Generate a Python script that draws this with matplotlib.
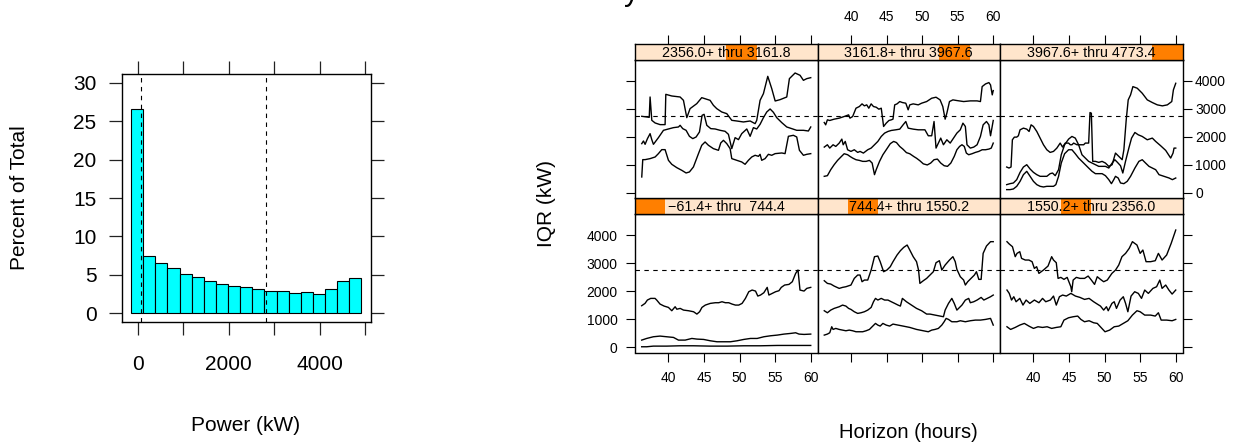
import numpy as np
import matplotlib.pyplot as plt
from matplotlib.patches import Rectangle

plt.rcParams['font.family'] = ['Liberation Sans', 'DejaVu Sans']

W, H = 1233, 448
fig = plt.figure(figsize=(W / 100, H / 100), dpi=100)


def box(l, t, r, b):
    # pixel box (left, top, right, bottom) -> figure fraction rect
    return [l / W, 1 - b / H, (r - l) / W, (b - t) / H]


# ---------------- histogram data ----------------
bin_edges = np.linspace(-147, 4916, 20)
pct_total = [26.6, 7.49, 6.57, 5.88, 5.14, 4.75, 4.18, 3.83, 3.57, 3.35,
             3.09, 2.83, 2.83, 2.61, 2.74, 2.52, 3.18, 4.14, 4.53]
q_low, q_high = 80, 2820          # quartiles of power (dashed lines)
iqr_ref = q_high - q_low          # reference line in the IQR panels

# ---------------- shingle levels ----------------
shingle_edges = [-61.4, 744.4, 1550.2, 2356.0, 3161.8, 3967.6, 4773.4]
strip_labels = ['\u221261.4+ thru  744.4', '744.4+ thru 1550.2', '1550.2+ thru 2356.0',
                '2356.0+ thru 3161.8', '3161.8+ thru 3967.6', '3967.6+ thru 4773.4']

# ---------------- IQR curves (hour, kW) ----------------
lv1_hi = [(36.24, 1484), (36.71, 1567), (37.04, 1686), (37.51, 1745), (38.12, 1745), (38.35, 1686),
          (38.82, 1543), (39.39, 1472), (40.0, 1424), (40.47, 1306), (40.94, 1448), (41.18, 1360),
          (41.65, 1389), (42.12, 1329), (42.82, 1306), (43.53, 1270), (44.0, 1187), (44.38, 1270),
          (44.71, 1424), (45.18, 1507), (45.88, 1567), (46.59, 1591), (47.06, 1591), (47.53, 1626),
          (48.0, 1591), (48.47, 1591), (48.94, 1543), (49.41, 1507), (49.88, 1507), (50.35, 1567),
          (50.82, 1745), (51.29, 1982), (51.76, 2042), (52.24, 2006), (52.56, 1828), (52.94, 1864),
          (53.41, 1947), (53.88, 2137), (54.12, 1864), (54.59, 1923), (55.06, 1982), (55.53, 2018),
          (55.86, 2137), (56.33, 2220), (56.94, 2243), (57.41, 2338), (57.88, 2635), (58.21, 2754),
          (58.49, 2042), (59.06, 2006), (59.44, 2101), (60.0, 2137)]
lv1_mid = [(36.24, 261), (36.94, 320), (37.88, 380), (38.82, 404), (39.76, 380), (40.71, 356),
           (41.41, 261), (42.35, 261), (43.29, 320), (44.0, 297), (44.94, 285), (45.88, 237),
           (46.82, 202), (47.76, 202), (48.71, 202), (49.65, 237), (50.59, 285), (51.53, 320),
           (52.47, 320), (53.41, 380), (54.35, 415), (55.29, 439), (56.24, 475), (57.18, 499),
           (57.88, 522), (58.35, 475), (59.06, 463), (60.0, 475)]
lv1_lo = [(36.24, 24), (36.94, 24), (37.88, 47), (39.76, 47), (41.65, 59), (43.53, 59), (45.88, 47),
          (48.24, 47), (50.59, 59), (52.94, 59), (55.29, 71), (57.65, 71), (60.0, 71)]

lv2_hi = [(36.25, 2374), (36.69, 2279), (37.16, 2255), (37.64, 2184), (38.35, 2101), (38.82, 2137),
          (39.29, 2160), (40.0, 2220), (40.47, 2457), (40.95, 2576), (41.28, 2576), (41.56, 2338),
          (41.89, 2398), (42.36, 2398), (42.84, 2754), (43.31, 3229), (43.78, 3252), (44.11, 3051),
          (44.59, 2694), (45.06, 2754), (45.53, 2873), (45.91, 3051), (46.48, 3288), (46.95, 3442),
          (47.42, 3561), (47.9, 3644), (48.27, 3466), (48.75, 3229), (49.22, 3051), (49.5, 2754),
          (49.69, 2279), (50.17, 2374), (50.64, 2457), (51.11, 2576), (51.58, 2694), (51.96, 3015),
          (52.43, 3086), (52.77, 2754), (53.24, 2932), (53.85, 3110), (54.33, 3229), (54.66, 3051),
          (54.89, 2778), (55.37, 2516), (55.84, 2398), (56.08, 2220), (56.41, 2338), (56.88, 2457),
          (57.35, 2576), (57.64, 2694), (57.97, 2422), (58.3, 2422), (58.58, 3347), (59.05, 3609),
          (59.62, 3763), (60.0, 3763)]
lv2_mid = [(36.25, 1306), (36.69, 1234), (37.16, 1329), (37.64, 1389), (38.35, 1448), (38.82, 1507),
           (39.29, 1472), (39.67, 1389), (40.0, 1353), (40.47, 1270), (40.95, 1211), (41.42, 1234),
           (41.89, 1270), (42.36, 1329), (42.84, 1424), (43.17, 1626), (43.45, 1745), (43.78, 1686),
           (44.26, 1745), (44.73, 1686), (45.2, 1686), (45.67, 1626), (46.15, 1567), (46.62, 1507),
           (46.95, 1472), (47.23, 1745), (47.8, 1626), (48.51, 1507), (49.22, 1389), (49.93, 1306),
           (50.64, 1187), (51.11, 1187), (51.82, 1151), (52.53, 1116), (53.0, 1092), (53.24, 1329),
           (53.71, 1567), (54.18, 1745), (54.52, 1567), (54.89, 1329), (55.27, 1424), (55.6, 1507),
           (56.08, 1685), (56.55, 1745), (56.78, 1591), (57.26, 1626), (57.73, 1686), (58.3, 1780),
           (58.68, 1686), (59.15, 1745), (59.62, 1804), (60.0, 1864)]
lv2_lo = [(36.25, 439), (36.69, 475), (37.02, 522), (37.3, 736), (37.49, 641), (37.87, 677),
          (38.35, 641), (38.82, 617), (39.29, 593), (39.76, 617), (40.24, 593), (40.71, 558),
          (41.18, 558), (41.65, 558), (42.13, 593), (42.6, 641), (43.07, 760), (43.45, 855),
          (43.78, 795), (44.11, 760), (44.49, 855), (44.96, 795), (45.44, 760), (45.91, 831),
          (46.62, 795), (47.33, 760), (48.27, 712), (49.22, 641), (50.17, 593), (50.87, 558),
          (51.35, 617), (51.82, 641), (52.29, 677), (52.77, 795), (53.1, 914), (53.38, 1033),
          (53.71, 997), (54.18, 914), (54.89, 914), (55.37, 950), (56.08, 914), (56.78, 950),
          (57.49, 973), (58.2, 973), (58.91, 997), (59.62, 1033), (60.0, 795)]

lv3_hi = [(36.28, 3763), (36.6, 3680), (37.05, 3585), (37.44, 3229), (37.69, 3347), (38.08, 3407),
          (38.33, 3169), (38.85, 3110), (39.36, 3110), (39.81, 3051), (40.13, 2813), (40.45, 2873),
          (40.77, 2635), (41.41, 2754), (42.05, 2896), (42.56, 3229), (42.82, 3110), (43.21, 3015),
          (43.46, 2457), (43.85, 2493), (44.29, 2422), (44.74, 2493), (45.26, 2160), (45.38, 1982),
          (45.58, 2398), (46.03, 2493), (46.54, 2457), (47.18, 2457), (47.69, 2540), (48.14, 2398),
          (48.59, 2243), (48.97, 2516), (49.42, 2422), (49.87, 2338), (50.38, 2398), (51.03, 2635),
          (51.54, 2754), (51.99, 2932), (52.44, 3229), (52.95, 3347), (53.46, 3525), (53.91, 3763),
          (54.55, 3644), (55.0, 3347), (55.38, 3466), (55.83, 3051), (56.47, 3051), (57.12, 3086),
          (57.56, 3347), (58.08, 3110), (58.72, 3288), (59.36, 3704), (60.0, 4178)]
lv3_mid = [(36.28, 2042), (36.6, 1923), (36.92, 1686), (37.24, 1804), (37.56, 1626), (38.08, 1745),
           (38.53, 1507), (38.97, 1686), (39.49, 1567), (40.13, 1686), (40.77, 1591), (41.28, 1745),
           (41.73, 1626), (42.37, 1686), (42.82, 1828), (43.21, 1507), (43.65, 1804), (44.1, 1864),
           (44.62, 1828), (45.26, 1923), (45.9, 1828), (46.54, 1780), (47.18, 1709), (47.82, 1745),
           (48.46, 1626), (48.97, 1543), (49.42, 1472), (49.87, 1329), (50.26, 1448), (50.51, 1306),
           (51.03, 1567), (51.35, 1626), (51.67, 1389), (52.18, 1686), (52.63, 1804), (52.95, 1567),
           (53.27, 1270), (53.72, 1828), (54.23, 1982), (54.74, 1923), (55.19, 1745), (55.64, 2042),
           (56.15, 1923), (56.79, 2101), (57.31, 2160), (57.76, 2398), (58.08, 2101), (58.59, 2220),
           (59.04, 2042), (59.49, 1899), (60.0, 2042)]
lv3_lo = [(36.28, 736), (36.79, 641), (37.44, 712), (38.08, 795), (38.72, 855), (39.36, 760),
          (40.0, 677), (40.64, 736), (41.28, 712), (41.92, 736), (42.56, 677), (43.21, 712),
          (43.85, 736), (44.29, 973), (44.94, 1056), (45.58, 1092), (46.22, 1116), (46.67, 997),
          (47.18, 914), (47.82, 950), (48.46, 878), (48.97, 855), (49.62, 677), (50.06, 558),
          (50.71, 617), (51.35, 736), (51.99, 760), (52.63, 855), (53.27, 950), (53.91, 1151),
          (54.55, 1306), (55.0, 1270), (55.64, 1151), (56.47, 1151), (57.12, 1116), (57.56, 1234),
          (57.95, 973), (58.72, 973), (59.49, 950), (60.0, 997)]

lv4_hi = [(36.25, 2737), (36.96, 2713), (37.3, 2700), (37.42, 3427), (37.66, 2594), (38.13, 2499),
          (38.83, 2440), (39.53, 2440), (39.63, 3522), (40.47, 3463), (41.64, 3427), (42.11, 3308),
          (42.58, 2689), (43.04, 3011), (43.98, 3189), (44.68, 3403), (45.85, 3308), (46.32, 3130),
          (46.79, 3011), (47.49, 2892), (48.2, 2832), (48.9, 2594), (49.6, 2570), (50.54, 2535),
          (51.48, 2570), (52.18, 2475), (52.41, 2594), (52.88, 3308), (53.35, 3546), (53.96, 4165),
          (54.52, 3725), (55.0, 3284), (55.69, 3332), (56.63, 3427), (57.0, 4082), (57.8, 4284),
          (58.5, 4201), (58.97, 4022), (59.44, 4082), (60.0, 4117)]
lv4_mid = [(36.25, 1761), (36.49, 1856), (36.72, 1737), (37.05, 1940), (37.42, 2118), (37.66, 1904),
           (37.89, 1737), (38.59, 1975), (39.3, 2237), (40.0, 2285), (40.7, 2332), (41.41, 2356),
           (41.64, 2416), (42.01, 2297), (42.48, 2237), (42.95, 2023), (43.42, 1940), (43.89, 1999),
           (44.36, 2178), (44.73, 2773), (45.01, 2808), (45.39, 2416), (45.95, 2297), (46.56, 2285),
           (47.26, 2237), (47.96, 2202), (48.43, 2094), (48.9, 1583), (49.37, 1975), (49.84, 1904),
           (50.3, 2118), (51.01, 2285), (51.48, 2023), (51.94, 2332), (52.41, 2285), (52.88, 2451),
           (53.35, 2689), (53.82, 2892), (54.29, 2999), (54.75, 2880), (55.22, 2689), (55.93, 2511),
           (56.63, 2356), (57.33, 2297), (58.03, 2237), (58.97, 2237), (59.67, 2213), (60.0, 2356)]
lv4_lo = [(36.25, 571), (36.39, 1190), (36.72, 1190), (37.42, 1226), (38.13, 1285), (38.59, 1404),
          (39.06, 1547), (39.53, 1547), (40.0, 1166), (40.47, 1023), (41.17, 904), (41.87, 809),
          (42.48, 714), (42.95, 750), (43.51, 928), (44.22, 1404), (44.68, 1702), (45.15, 1821),
          (45.62, 1702), (46.32, 1583), (47.03, 1523), (47.35, 1785), (47.73, 1880), (48.2, 1761),
          (48.67, 1583), (48.9, 1226), (49.6, 1166), (50.3, 1107), (50.77, 1023), (51.24, 1166),
          (51.71, 1285), (52.18, 1345), (52.65, 1309), (52.88, 1380), (53.11, 1166), (53.58, 1226),
          (54.05, 1380), (54.52, 1345), (54.99, 1404), (55.93, 1428), (56.39, 1404), (56.86, 2023),
          (57.56, 2059), (58.03, 1999), (58.41, 1523), (58.97, 1345), (59.44, 1380), (60.0, 1404)]

lv5_hi = [(36.25, 2516), (36.45, 2433), (36.69, 2611), (37.02, 2588), (37.64, 2635), (38.35, 2671),
          (39.05, 2730), (39.67, 2789), (39.86, 2671), (40.24, 2730), (40.71, 3027), (41.18, 3086),
          (41.56, 3181), (41.89, 3110), (42.22, 3146), (42.51, 3027), (42.84, 3181), (43.17, 3086),
          (43.55, 3062), (43.92, 2991), (44.26, 3027), (44.59, 2374), (44.96, 2493), (45.34, 2588),
          (45.67, 2611), (45.91, 2635), (46.15, 3146), (46.48, 3181), (46.86, 3264), (47.23, 3229),
          (47.71, 3205), (48.04, 2968), (48.27, 3146), (48.75, 3181), (49.46, 3146), (49.93, 3205),
          (50.64, 3264), (51.35, 3383), (51.96, 3419), (52.53, 3324), (52.91, 3086), (53.24, 2635),
          (53.48, 2849), (53.85, 3264), (54.33, 3324), (54.89, 3300), (55.84, 3264), (56.78, 3288),
          (57.73, 3288), (58.2, 3264), (58.44, 3798), (58.91, 3893), (59.39, 3941), (59.62, 3858),
          (59.86, 3502), (60.0, 3656)]
lv5_mid = [(36.25, 1638), (36.69, 1721), (37.02, 1602), (37.49, 1721), (37.87, 1662), (38.35, 1781),
           (38.72, 1923), (38.91, 1721), (39.2, 1840), (39.53, 1543), (40.0, 1484), (40.47, 1543),
           (40.95, 1448), (41.28, 1484), (41.75, 1424), (42.36, 1543), (42.84, 1602), (43.31, 1721),
           (43.78, 1840), (44.26, 2018), (44.73, 2137), (45.2, 2196), (45.67, 2232), (46.29, 2255),
           (46.86, 2279), (47.33, 2433), (47.71, 2552), (48.04, 2315), (48.75, 2279), (49.46, 2255),
           (50.4, 2255), (50.87, 2042), (51.35, 2042), (51.68, 2552), (51.96, 1602), (52.29, 1781),
           (52.62, 1959), (53.0, 1721), (53.48, 1899), (53.95, 1781), (54.42, 1959), (54.89, 2137),
           (55.37, 2255), (55.74, 2493), (56.08, 2374), (56.31, 1721), (56.78, 1602), (57.26, 1638),
           (57.73, 1721), (58.2, 2018), (58.58, 2433), (59.05, 2552), (59.39, 2433), (59.62, 2042),
           (60.0, 2588)]
lv5_lo = [(36.25, 594), (36.69, 617), (37.16, 831), (37.64, 1009), (38.12, 1163), (38.58, 1282),
          (39.05, 1401), (39.53, 1365), (39.86, 1306), (40.24, 1246), (40.71, 1187), (41.18, 1163),
          (41.65, 1128), (42.13, 1128), (42.6, 1163), (42.98, 1068), (43.31, 653), (43.55, 831),
          (44.02, 1128), (44.49, 1365), (45.06, 1580), (45.53, 1760), (46.0, 1840), (46.4, 1800),
          (46.86, 1660), (47.33, 1560), (47.8, 1440), (48.27, 1400), (48.84, 1300), (49.22, 1240),
          (49.69, 1150), (50.17, 1040), (50.73, 1000), (51.21, 1068), (51.68, 1187), (52.15, 1210),
          (52.62, 1068), (53.1, 973), (53.57, 950), (54.04, 1068), (54.52, 1306), (54.89, 1543),
          (55.27, 1662), (55.6, 1721), (55.93, 1662), (56.22, 1424), (56.55, 1365), (57.02, 1401),
          (57.49, 1448), (57.97, 1484), (58.44, 1543), (58.91, 1543), (59.39, 1567), (59.72, 1602),
          (60.0, 1781)]

lv6_hi = [(36.24, 926), (36.56, 890), (36.85, 926), (37.04, 1899), (37.32, 1994), (37.65, 1994),
          (37.88, 2042), (38.12, 2255), (38.59, 2315), (39.06, 2279), (39.39, 2196), (39.67, 2433),
          (40.0, 2374), (40.47, 2196), (40.94, 1959), (41.41, 1721), (41.88, 1543), (42.35, 1448),
          (42.82, 1484), (43.29, 1602), (43.76, 1781), (44.09, 1638), (44.47, 1781), (44.94, 1781),
          (45.18, 1721), (45.41, 1721), (45.65, 1781), (46.12, 1721), (46.59, 1721), (47.06, 1721),
          (47.29, 1781), (47.76, 1781), (47.95, 2872), (48.14, 2849), (48.33, 1128), (48.71, 1128),
          (49.18, 1092), (49.65, 1128), (50.12, 1068), (50.59, 950), (51.06, 1009), (51.53, 1424),
          (52.0, 1306), (52.47, 1187), (52.71, 1543), (53.04, 2611), (53.32, 3324), (53.65, 3502),
          (53.98, 3798), (54.59, 3740), (55.29, 3561), (56.0, 3324), (56.71, 3229), (57.41, 3146),
          (58.12, 3110), (58.82, 3146), (59.44, 3264), (59.67, 3680), (60.0, 3917)]
lv6_mid = [(36.24, 297), (36.71, 332), (37.18, 356), (37.65, 475), (38.12, 736), (38.59, 926),
           (39.06, 1009), (39.53, 855), (40.0, 736), (40.47, 653), (40.94, 594), (41.41, 594),
           (41.88, 594), (42.35, 689), (42.68, 712), (43.06, 617), (43.53, 831), (43.91, 1365),
           (44.38, 1721), (44.94, 1923), (45.41, 2018), (45.88, 1959), (46.35, 1721), (46.82, 1365),
           (47.29, 1246), (47.76, 1128), (48.24, 1068), (48.71, 1009), (49.18, 950), (49.65, 950),
           (50.12, 950), (50.59, 890), (51.06, 1068), (51.44, 1187), (51.81, 1092), (52.24, 973),
           (52.56, 712), (52.94, 1128), (53.41, 1602), (53.79, 1959), (54.26, 2160), (54.73, 2077),
           (55.29, 2018), (56.0, 1899), (56.71, 1959), (57.18, 1840), (57.88, 1686), (58.59, 1519),
           (59.29, 1246), (59.62, 1424), (59.76, 1602), (60.0, 1602)]
lv6_lo = [(36.24, 119), (36.71, 119), (37.18, 142), (37.65, 237), (38.12, 415), (38.59, 653),
          (39.06, 772), (39.53, 594), (40.0, 415), (40.47, 297), (40.94, 237), (41.41, 214),
          (41.88, 237), (42.35, 237), (42.82, 237), (43.15, 297), (43.53, 594), (43.91, 1068),
          (44.38, 1401), (44.94, 1543), (45.41, 1543), (45.88, 1401), (46.35, 1246), (46.82, 1128),
          (47.29, 1009), (47.76, 890), (48.24, 772), (48.71, 689), (49.65, 689), (50.12, 617),
          (50.59, 475), (50.96, 332), (51.29, 475), (51.53, 594), (51.91, 534), (52.24, 356),
          (52.71, 332), (53.18, 415), (53.65, 594), (54.26, 890), (54.82, 1128), (55.29, 1187),
          (55.76, 1068), (56.24, 950), (56.71, 890), (57.18, 831), (57.65, 653), (58.35, 594),
          (59.06, 534), (59.53, 475), (60.0, 534)]

level_curves = [(lv1_hi, lv1_mid, lv1_lo), (lv2_hi, lv2_mid, lv2_lo), (lv3_hi, lv3_mid, lv3_lo),
                (lv4_hi, lv4_mid, lv4_lo), (lv5_hi, lv5_mid, lv5_lo), (lv6_hi, lv6_mid, lv6_lo)]

hour_ticks = [40, 45, 50, 55, 60]
iqr_ticks = [0, 1000, 2000, 3000, 4000]

DASH = (0, (4, 4))
FRAME_LW = 1.0

# ================= histogram =================
ax = fig.add_axes(box(122, 74, 370.5, 322))
ax.bar(bin_edges[:-1], pct_total, width=np.diff(bin_edges), align='edge',
       color='#00FFFF', edgecolor='black', linewidth=0.8)
for q in (q_low, q_high):
    ax.axvline(q, color='black', lw=0.8, ls=DASH)
ax.set_xlim(-345, 5116)
ax.set_ylim(-1.17, 31.17)
ax.set_xticks(range(0, 5001, 1000))
ax.set_xticklabels(['0', '', '2000', '', '4000', ''])
ax.set_yticks(range(0, 31, 5))
ax.tick_params(direction='out', length=9.4, width=0.9, color='#222222',
               top=True, right=True, labelsize=15)
ax.tick_params(axis='x', pad=14)
ax.tick_params(axis='y', pad=9)
for s in ax.spines.values():
    s.set_linewidth(FRAME_LW)
fig.text(246 / W, 1 - 425 / H, 'Power (kW)', ha='center', va='center', fontsize=15)
fig.text(20 / W, 1 - 198 / H, 'Percent of Total', ha='center', va='center',
         rotation=90, fontsize=15)

# ================= IQR panels =================
col_x = [635, 817.5, 1000, 1182.5]
rows = {0: (198, 214.5, 352.5),   # bottom row: strip top, panel top, panel bottom
        1: (44, 60.5, 198)}       # top row
xlim = (35.3, 60.95)
ylim = (-180, 4730)
lo, hi = shingle_edges[0], shingle_edges[-1]

for i, curves in enumerate(level_curves):
    row, col = divmod(i, 3)
    st, pt, pb = rows[row]
    x0, x1 = col_x[col], col_x[col + 1]

    pax = fig.add_axes(box(x0, pt, x1, pb))
    for c in curves:
        hrs, kw = zip(*c)
        pax.plot(hrs, kw, color='black', lw=1.0)
    pax.axhline(iqr_ref, color='black', lw=0.8, ls=DASH)
    pax.set_xlim(xlim)
    pax.set_ylim(ylim)
    pax.set_xticks(hour_ticks)
    pax.set_yticks(iqr_ticks)
    pax.tick_params(direction='out', length=6.5, width=0.8, labelsize=10,
                    top=False, bottom=(row == 0), labelbottom=(row == 0 and col != 1),
                    left=(col == 0), labelleft=(row == 0 and col == 0),
                    right=(col == 2), labelright=(row == 1 and col == 2))
    pax.tick_params(axis='x', pad=7)
    pax.tick_params(axis='y', which='both', pad=6 if col == 0 else 2.5)
    for s in pax.spines.values():
        s.set_linewidth(FRAME_LW)

    sax = fig.add_axes(box(x0, st, x1, pt))
    sax.set_facecolor('#FFE5CC')
    f0 = (shingle_edges[i] - lo) / (hi - lo)
    f1 = (shingle_edges[i + 1] - lo) / (hi - lo)
    sax.add_patch(Rectangle((f0, 0), f1 - f0, 1, transform=sax.transAxes,
                            facecolor='#FF7F00', edgecolor='none'))
    sax.text(0.5, 0.47, strip_labels[i], transform=sax.transAxes,
             ha='center', va='center', fontsize=10.3)
    sax.set_xlim(xlim)
    sax.set_ylim(0, 1)
    sax.set_yticks([])
    if row == 1:
        sax.set_xticks(hour_ticks)
        sax.tick_params(axis='x', direction='out', length=6.5, width=0.8, labelsize=10,
                        top=True, bottom=False, labeltop=(col == 1), labelbottom=False, pad=8)
    else:
        sax.set_xticks([])
    for s in sax.spines.values():
        s.set_linewidth(FRAME_LW)

fig.text(547 / W, 1 - 203 / H, 'IQR (kW)', ha='center', va='center', rotation=90, fontsize=15)
fig.text(908.75 / W, 1 - 432 / H, 'Horizon (hours)', ha='center', va='center', fontsize=14.5)

# tail of a clipped heading at the very top edge
fig.text(624 / W, 1.0, 'y', ha='left', va='baseline', fontsize=22)

fig.savefig('out.png', dpi=100)
